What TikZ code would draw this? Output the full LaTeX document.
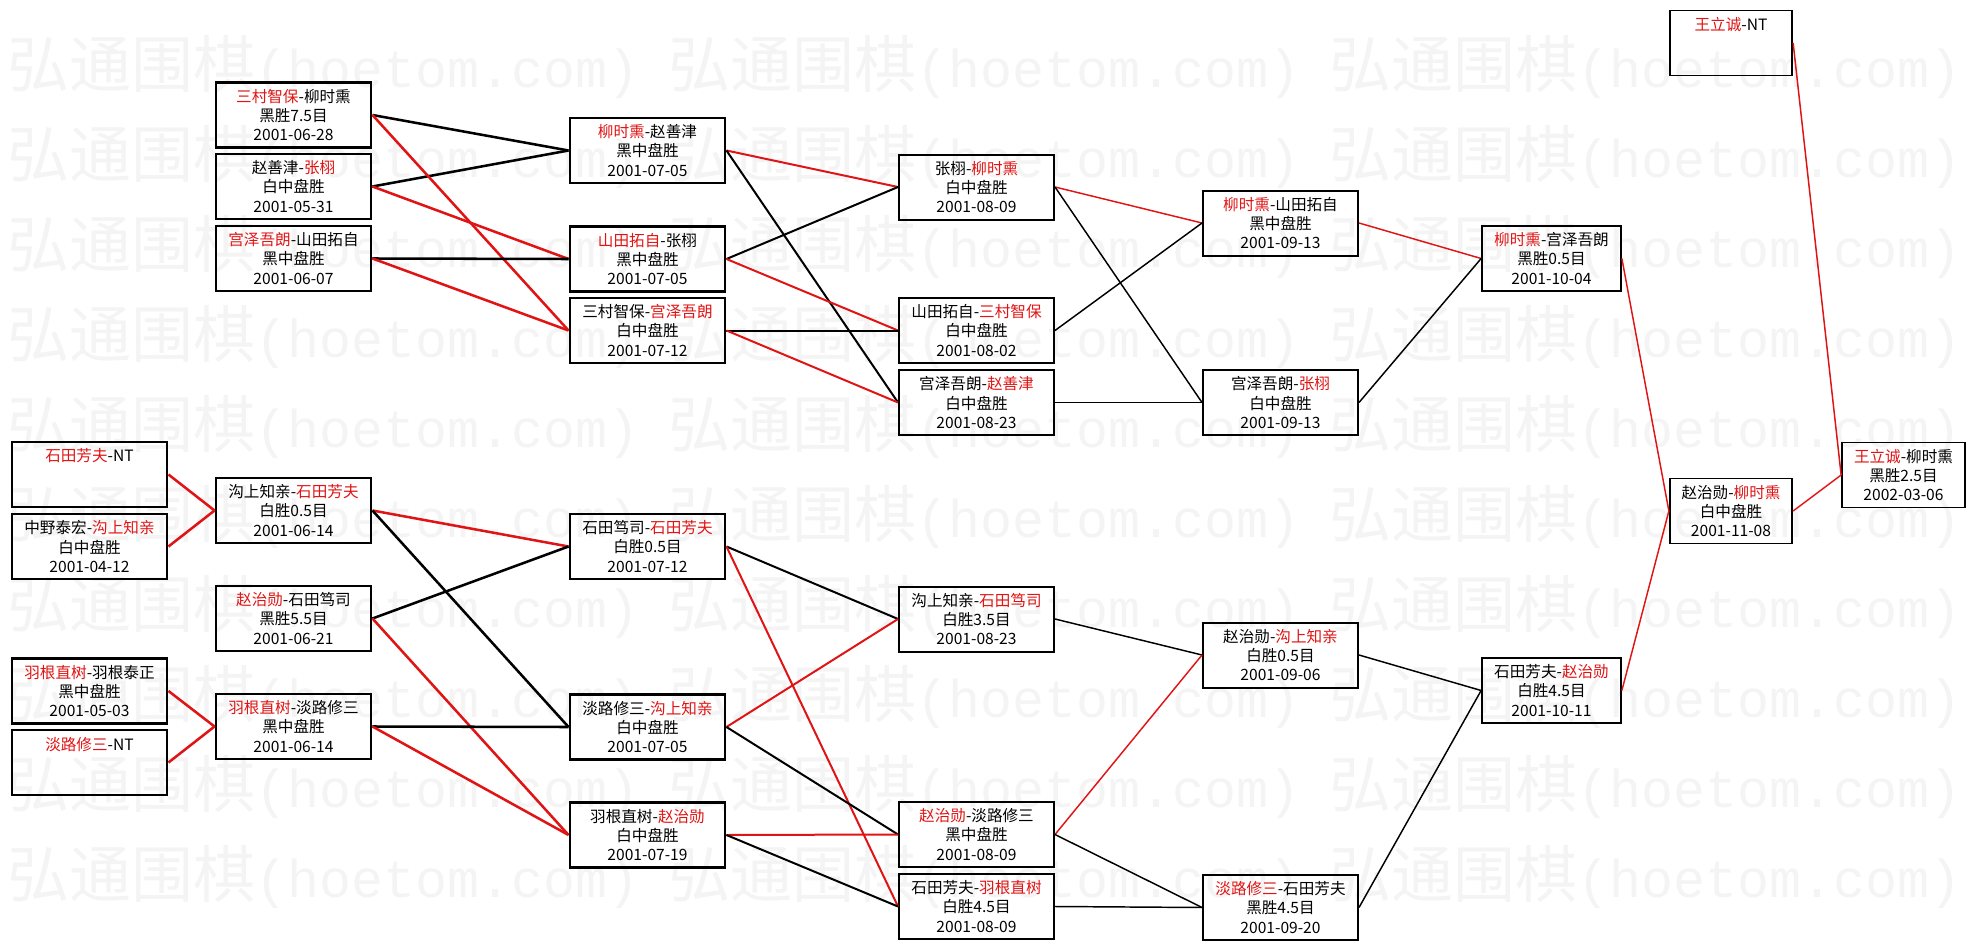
\documentclass[tikz,border=0pt]{standalone}
\usepackage{fontspec}
\setmainfont{Noto Sans CJK SC}
\newfontfamily\wmlatin{Liberation Mono}
\usepackage{tikz}
\definecolor{hbred}{HTML}{E01414}
\definecolor{hbmark}{HTML}{F4F4F4}
\newcommand{\rname}[1]{\textcolor{hbred}{#1}}
\newcommand{\wmark}{弘通围棋{\wmlatin\fontsize{40}{40}\selectfont(hoetom.com)}}
\tikzset{
  gameBox/.style={draw, inner sep=0pt, align=center, minimum width=116.25pt, minimum height=48.75pt,
    font=\fontsize{11.7}{14.3}\selectfont, line width=2.2pt},
  gameMid/.style={gameBox, line width=1.5pt},
  gameThin/.style={gameBox, line width=1.3pt},
  linkWide/.style={line width=1.9pt},
  linkMid/.style={line width=1.5pt},
  linkThin/.style={line width=1.1pt},
  markText/.style={text=hbmark, anchor=west, inner sep=0pt, font=\fontsize{46.5}{46.5}\selectfont}
}

\begin{document}
\begin{tikzpicture}[x=0.75pt,y=-0.75pt]
  \useasboundingbox (0,0) rectangle (1975,949);
  % watermark
  \foreach \row in {0,...,9}
    \foreach \col in {0,1,2}
      \node[markText] (wm-\row-\col) at ({7+661*\col},{66.5+90*\row}) {\wmark};

  % round 0
  \node[gameBox] (r0a) at (89.5,474.5) {\rname{石田芳夫}-NT\\~\\~};
  \node[gameBox] (r0b) at (89.5,546.5) {中野泰宏-\rname{沟上知亲}\\白中盘胜\\2001-04-12};
  \node[gameBox] (r0c) at (89.5,691) {\rname{羽根直树}-羽根泰正\\黑中盘胜\\2001-05-03};
  \node[gameBox] (r0d) at (89.5,762.5) {\rname{淡路修三}-NT\\~\\~};
  % round 1
  \node[gameBox] (r1a) at (293.5,115) {\rname{三村智保}-柳时熏\\黑胜7.5目\\2001-06-28};
  \node[gameBox] (r1b) at (293.5,186.5) {赵善津-\rname{张栩}\\白中盘胜\\2001-05-31};
  \node[gameBox] (r1c) at (293.5,258.5) {\rname{宫泽吾朗}-山田拓自\\黑中盘胜\\2001-06-07};
  \node[gameBox] (r1d) at (293.5,510.5) {沟上知亲-\rname{石田芳夫}\\白胜0.5目\\2001-06-14};
  \node[gameBox] (r1e) at (293.5,618.5) {\rname{赵治勋}-石田笃司\\黑胜5.5目\\2001-06-21};
  \node[gameBox] (r1f) at (293.5,726.5) {\rname{羽根直树}-淡路修三\\黑中盘胜\\2001-06-14};
  % round 2
  \node[gameBox] (r2a) at (647.5,150.5) {\rname{柳时熏}-赵善津\\黑中盘胜\\2001-07-05};
  \node[gameBox] (r2b) at (647.5,259) {\rname{山田拓自}-张栩\\黑中盘胜\\2001-07-05};
  \node[gameBox] (r2c) at (647.5,330.5) {三村智保-\rname{宫泽吾朗}\\白中盘胜\\2001-07-12};
  \node[gameBox] (r2d) at (647.5,546.5) {石田笃司-\rname{石田芳夫}\\白胜0.5目\\2001-07-12};
  \node[gameBox] (r2e) at (647.5,727) {淡路修三-\rname{沟上知亲}\\白中盘胜\\2001-07-05};
  \node[gameBox] (r2f) at (647.5,835) {羽根直树-\rname{赵治勋}\\白中盘胜\\2001-07-19};
  % round 3
  \node[gameMid] (r3a) at (976.5,187) {张栩-\rname{柳时熏}\\白中盘胜\\2001-08-09};
  \node[gameMid] (r3b) at (976.5,330.5) {山田拓自-\rname{三村智保}\\白中盘胜\\2001-08-02};
  \node[gameMid] (r3c) at (976.5,402.5) {宫泽吾朗-\rname{赵善津}\\白中盘胜\\2001-08-23};
  \node[gameMid] (r3d) at (976.5,619) {沟上知亲-\rname{石田笃司}\\白胜3.5目\\2001-08-23};
  \node[gameMid] (r3e) at (976.5,834.5) {\rname{赵治勋}-淡路修三\\黑中盘胜\\2001-08-09};
  \node[gameMid] (r3f) at (976.5,906.5) {石田芳夫-\rname{羽根直树}\\白胜4.5目\\2001-08-09};
  % round 4
  \node[gameMid] (r4a) at (1280.5,223) {\rname{柳时熏}-山田拓自\\黑中盘胜\\2001-09-13};
  \node[gameMid] (r4b) at (1280.5,402.5) {宫泽吾朗-\rname{张栩}\\白中盘胜\\2001-09-13};
  \node[gameMid] (r4c) at (1280.5,655) {赵治勋-\rname{沟上知亲}\\白胜0.5目\\2001-09-06};
  \node[gameMid] (r4d) at (1280.5,907.5) {\rname{淡路修三}-石田芳夫\\黑胜4.5目\\2001-09-20};
  % round 5 and on
  \node[gameThin, minimum width=104.25pt] (r5a) at (1551.5,258.5) {\rname{柳时熏}-宫泽吾朗\\黑胜0.5目\\2001-10-04};
  \node[gameThin, minimum width=104.25pt] (r5b) at (1551.5,690.5) {石田芳夫-\rname{赵治勋}\\白胜4.5目\\2001-10-11};
  \node[gameThin, minimum width=91.9pt] (r6a) at (1731,43) {\rname{王立诚}-NT\\~\\~};
  \node[gameThin, minimum width=91.9pt] (r6b) at (1731,511) {赵治勋-\rname{柳时熏}\\白中盘胜\\2001-11-08};
  \node[gameThin, minimum width=92.25pt] (r7) at (1903.5,475) {\rname{王立诚}-柳时熏\\黑胜2.5目\\2002-03-06};

  % connectors
  \foreach \a/\b/\c in {r0a/r1d/hbred, r0b/r1d/hbred, r0c/r1f/hbred, r0d/r1f/hbred,
      r1a/r2a/black, r1b/r2a/black, r1a/r2c/hbred, r1b/r2b/hbred, r1c/r2b/black, r1c/r2c/hbred,
      r1d/r2d/hbred, r1d/r2e/black, r1e/r2d/black, r1e/r2f/hbred, r1f/r2e/black, r1f/r2f/hbred}
    \draw[linkWide, draw=\c] (\a.east) -- (\b.west);
  \foreach \a/\b/\c in {r2a/r3a/hbred, r2a/r3c/black, r2b/r3a/black, r2b/r3b/hbred, r2c/r3b/black, r2c/r3c/hbred,
      r2d/r3d/black, r2d/r3f/hbred, r2e/r3d/hbred, r2e/r3e/black, r2f/r3e/hbred, r2f/r3f/black}
    \draw[linkMid, draw=\c] (\a.east) -- (\b.west);
  \foreach \a/\b/\c in {r3a/r4a/hbred, r3a/r4b/black, r3b/r4a/black, r3c/r4b/black,
      r3d/r4c/black, r3e/r4c/hbred, r3e/r4d/black, r3f/r4d/black,
      r4a/r5a/hbred, r4b/r5a/black, r4c/r5b/black, r4d/r5b/black,
      r5a/r6b/hbred, r5b/r6b/hbred, r6a/r7/hbred, r6b/r7/hbred}
    \draw[linkThin, draw=\c] (\a.east) -- (\b.west);
\end{tikzpicture}
\end{document}
